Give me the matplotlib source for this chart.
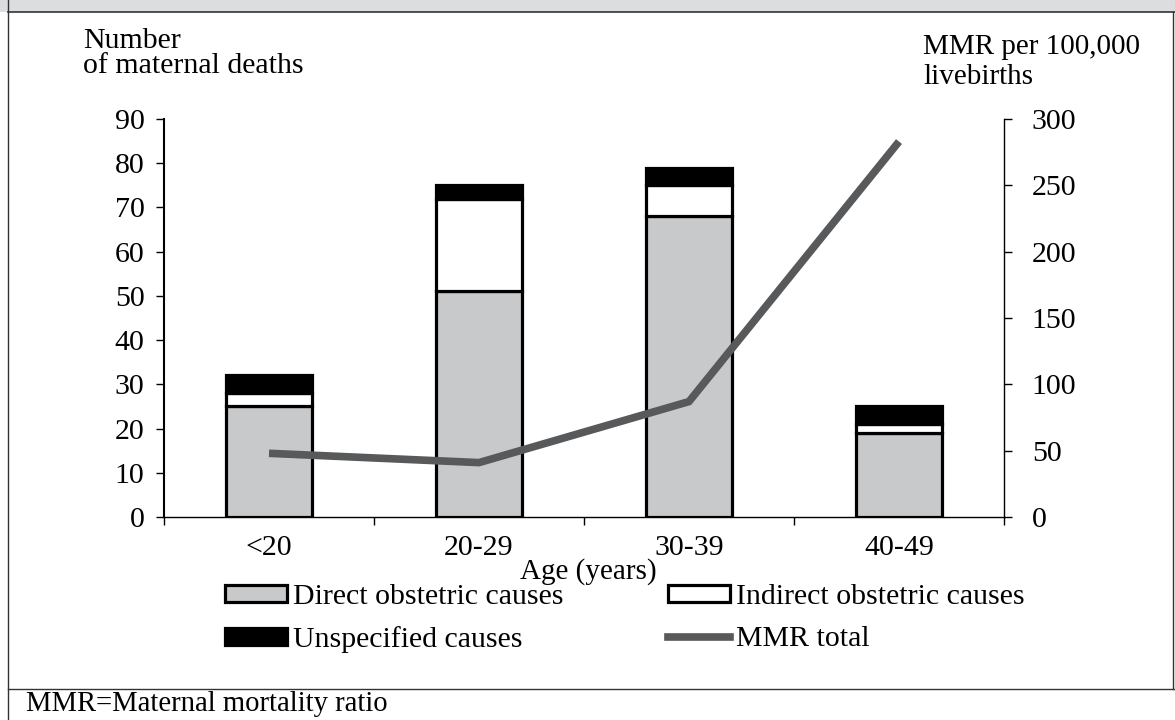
import matplotlib
matplotlib.use("Agg")
import matplotlib.pyplot as plt
from matplotlib.patches import Patch, Rectangle
from matplotlib.lines import Line2D
import numpy as np

plt.rcParams['font.family'] = ['Liberation Serif', 'DejaVu Serif']

# ---- data ----
age_groups = ["<20", "20-29", "30-39", "40-49"]
direct = [25, 51, 68, 19]
indirect = [3, 21, 7, 2]
unspecified = [4, 3, 4, 4]
mmr_total = [48, 41, 87, 283]

left_ticks = [0, 10, 20, 30, 40, 50, 60, 70, 80, 90]
right_ticks = [0, 50, 100, 150, 200, 250, 300]

W, H = 1175, 720
fig = plt.figure(figsize=(W / 100, H / 100), dpi=100)

def fx(px):
    return px / W

def fy(py):
    return 1 - py / H

# ---- frame decorations ----
fig.add_artist(Rectangle((0, fy(12)), 1, 12 / H, transform=fig.transFigure,
                         facecolor="#dcdddf", edgecolor="none", zorder=0))
fig.add_artist(Line2D([fx(8), 1], [fy(12), fy(12)], transform=fig.transFigure,
                      color="#333333", lw=1.2))
fig.add_artist(Line2D([fx(8), fx(8)], [0, 1], transform=fig.transFigure,
                      color="#333333", lw=1.0))
fig.add_artist(Line2D([fx(1173), fx(1173)], [fy(689), fy(12)], transform=fig.transFigure,
                      color="#333333", lw=1.0))
fig.add_artist(Line2D([fx(8), 1], [fy(689), fy(689)], transform=fig.transFigure,
                      color="#333333", lw=1.0))

# ---- axes ----
ax = fig.add_axes([fx(164), fy(517), fx(1004) - fx(164), fy(119) - fy(517)])
x = np.arange(len(age_groups))
bw = 0.41
edge_lw = 2.3

d = np.array(direct, dtype=float)
i_ = np.array(indirect, dtype=float)
u = np.array(unspecified, dtype=float)

ax.bar(x, d, bw, color="#c8c9cb", edgecolor="black", linewidth=edge_lw, zorder=2)
ax.bar(x, i_, bw, bottom=d, color="white", edgecolor="black", linewidth=edge_lw, zorder=2)
ax.bar(x, u, bw, bottom=d + i_, color="black", edgecolor="black", linewidth=edge_lw, zorder=2)

ax.set_xlim(-0.5, 3.5)
ax.set_ylim(0, 90)
ax.set_yticks(left_ticks)
ax.set_xticks(x)
ax.set_xticklabels(age_groups, fontsize=21.5)
ax.set_xticks(np.arange(-0.5, 3.6, 1.0), minor=True)
ax.tick_params(axis="x", which="major", length=0, pad=13)
ax.tick_params(axis="x", which="minor", direction="out", length=6, width=1)
ax.tick_params(axis="y", direction="out", length=6, width=1, labelsize=21.5, pad=8)
for s in ["top", "right"]:
    ax.spines[s].set_visible(False)
ax.spines["left"].set_linewidth(1.5)
ax.spines["bottom"].set_linewidth(1.0)

ax2 = ax.twinx()
ax2.set_ylim(0, 300)
ax2.set_yticks(right_ticks)
ax2.tick_params(axis="y", direction="out", length=6, width=1, labelsize=21.5, pad=14)
for s in ["top", "left", "bottom"]:
    ax2.spines[s].set_visible(False)
ax2.spines["right"].set_linewidth(1.0)
ax2.plot(x, mmr_total, color="#58595b", lw=5.5, solid_capstyle="butt",
         solid_joinstyle="miter", zorder=3)

# ---- titles ----
fig.text(fx(83), fy(28), "Number\nof maternal deaths", fontsize=21.5,
         ha="left", va="top", linespacing=0.95)
fig.text(fx(923), fy(34), "MMR per 100,000\nlivebirths", fontsize=21,
         ha="left", va="top", linespacing=1.2)
fig.text(fx(588), fy(572), "Age (years)", fontsize=21, ha="center", va="center")

# ---- legend ----
handles = [
    Patch(facecolor="#c8c9cb", edgecolor="black", linewidth=2.3, label="Direct obstetric causes"),
    Patch(facecolor="black", edgecolor="black", linewidth=2.3, label="Unspecified causes"),
    Patch(facecolor="white", edgecolor="black", linewidth=2.3, label="Indirect obstetric causes"),
    Line2D([0], [0], color="#58595b", lw=5.5, label="MMR total"),
]
fig.legend(handles=handles, loc="upper left", bbox_to_anchor=(fx(225), fy(584)),
           ncol=2, frameon=False, fontsize=21.5, handlelength=2.07, handleheight=0.5,
           handletextpad=0.2, columnspacing=3.5, labelspacing=0.55, borderpad=0,
           borderaxespad=0)

# ---- footnote ----
fig.text(fx(26), fy(711), "MMR=Maternal mortality ratio", fontsize=20.6,
         ha="left", va="baseline")

fig.savefig("out.png", dpi=100)
